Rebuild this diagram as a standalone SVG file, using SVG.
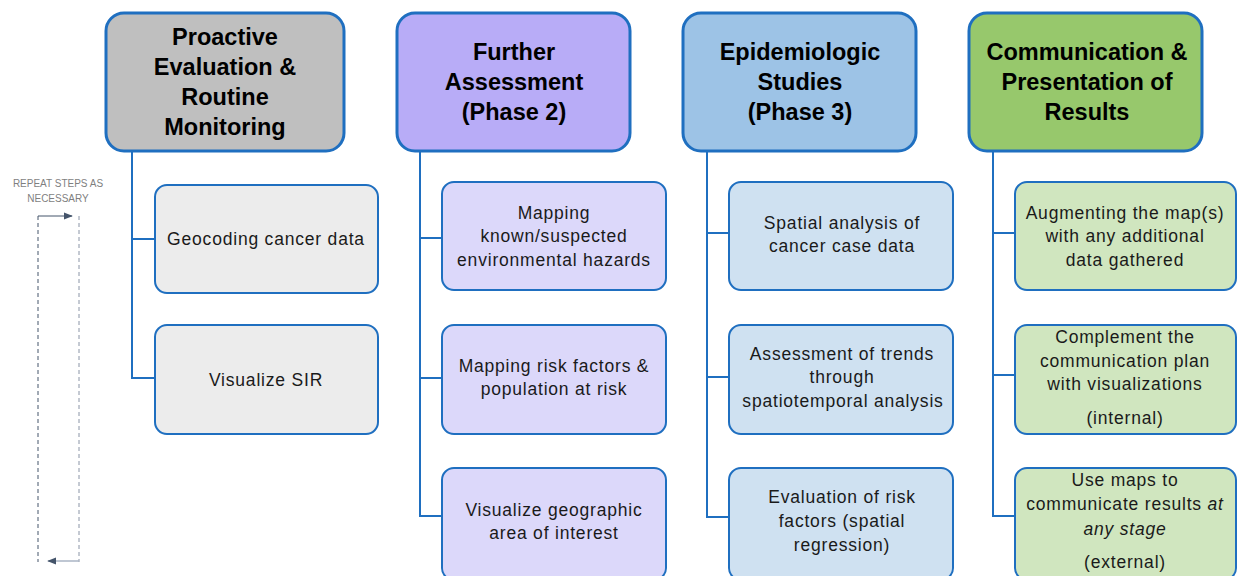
<svg xmlns="http://www.w3.org/2000/svg" width="1238" height="576" viewBox="0 0 1238 576">
<defs>
<style>
.hd{stroke:#1f6fc0;stroke-width:3}
.ch{stroke:#1f6fc0;stroke-width:2}
.ln{fill:none;stroke:#1f6fc0;stroke-width:2}
.ht{font-family:"Liberation Sans",Arial,sans-serif;font-weight:bold;font-size:23.5px;fill:#000;text-anchor:middle}
.ct{font-family:"Liberation Sans",Arial,sans-serif;font-size:17.5px;fill:#1a1a1a;text-anchor:middle;letter-spacing:0.8px}
.rp{font-family:"Liberation Sans",Arial,sans-serif;font-size:10px;fill:#7f7f7f;text-anchor:middle}
.g1{fill:#bfbfbf}.g2{fill:#b8acf7}.g3{fill:#9dc3e6}.g4{fill:#97c86c}
.c1{fill:#ececec}.c2{fill:#dcd8fa}.c3{fill:#cfe1f1}.c4{fill:#d0e6bf}
</style>
<marker id="ah" viewBox="0 0 10 10" refX="9" refY="5" markerWidth="9" markerHeight="9" markerUnits="userSpaceOnUse" orient="auto"><path d="M0,1 L10,5 L0,9 z" fill="#44546a"/></marker>
</defs>

<g id="connectors">
<path class="ln" d="M132,151 V378 H155 M132,239 H155"/>
<path class="ln" d="M420,151 V516 H442 M420,238 H442 M420,378 H442"/>
<path class="ln" d="M707,151 V517 H729 M707,233 H729 M707,377 H729"/>
<path class="ln" d="M993,151 V516 H1015 M993,233 H1015 M993,375 H1015"/>
</g>

<g id="repeat">
<text class="rp" x="58" y="187">REPEAT STEPS AS</text>
<text class="rp" x="58" y="202">NECESSARY</text>
<line x1="38" y1="216" x2="38" y2="562" stroke="#44546a" stroke-width="1" stroke-dasharray="4,3"/>
<line x1="79" y1="216" x2="79" y2="562" stroke="#8a94a6" stroke-width="1" stroke-dasharray="4,3"/>
<line x1="38" y1="216" x2="72" y2="216" stroke="#44546a" stroke-width="1" marker-end="url(#ah)"/>
<line x1="79" y1="561" x2="48" y2="561" stroke="#aab4c4" stroke-width="1.5" marker-end="url(#ah)"/>
</g>

<g id="h1"><rect class="hd g1" x="106" y="13" width="238" height="138" rx="18"/>
<text class="ht" x="225" y="45">Proactive</text><text class="ht" x="225" y="75">Evaluation &amp;</text><text class="ht" x="225" y="105">Routine</text><text class="ht" x="225" y="135">Monitoring</text></g>
<g id="h2"><rect class="hd g2" x="397" y="13" width="233" height="138" rx="18"/>
<text class="ht" x="514" y="60">Further</text><text class="ht" x="514" y="90">Assessment</text><text class="ht" x="514" y="120">(Phase 2)</text></g>
<g id="h3"><rect class="hd g3" x="683" y="13" width="233" height="138" rx="18"/>
<text class="ht" x="800" y="60">Epidemiologic</text><text class="ht" x="800" y="90">Studies</text><text class="ht" x="800" y="120">(Phase 3)</text></g>
<g id="h4"><rect class="hd g4" x="969" y="13" width="233" height="138" rx="18"/>
<text class="ht" x="1087" y="60">Communication &amp;</text><text class="ht" x="1087" y="90">Presentation of</text><text class="ht" x="1087" y="120">Results</text></g>

<g id="c1a"><rect class="ch c1" x="155" y="185" width="223" height="108" rx="12"/>
<text class="ct" x="266" y="245">Geocoding cancer data</text></g>
<g id="c1b"><rect class="ch c1" x="155" y="325" width="223" height="109" rx="12"/>
<text class="ct" x="266" y="386">Visualize SIR</text></g>

<g id="c2a"><rect class="ch c2" x="442" y="182" width="224" height="108" rx="12"/>
<text class="ct" x="554" y="219">Mapping</text><text class="ct" x="554" y="242">known/suspected</text><text class="ct" x="554" y="266">environmental hazards</text></g>
<g id="c2b"><rect class="ch c2" x="442" y="325" width="224" height="109" rx="12"/>
<text class="ct" x="554" y="372">Mapping risk factors &amp;</text><text class="ct" x="554" y="395">population at risk</text></g>
<g id="c2c"><rect class="ch c2" x="442" y="468" width="224" height="112" rx="12"/>
<text class="ct" x="554" y="516">Visualize geographic</text><text class="ct" x="554" y="539">area of interest</text></g>

<g id="c3a"><rect class="ch c3" x="729" y="182" width="224" height="108" rx="12"/>
<text class="ct" x="842" y="229">Spatial analysis of</text><text class="ct" x="842" y="252">cancer case data</text></g>
<g id="c3b"><rect class="ch c3" x="729" y="325" width="224" height="109" rx="12"/>
<text class="ct" x="842" y="360">Assessment of trends</text><text class="ct" x="842" y="383">through</text><text class="ct" x="843" y="407">spatiotemporal analysis</text></g>
<g id="c3c"><rect class="ch c3" x="729" y="468" width="224" height="112" rx="12"/>
<text class="ct" x="842" y="503">Evaluation of risk</text><text class="ct" x="842" y="527">factors (spatial</text><text class="ct" x="842" y="551">regression)</text></g>

<g id="c4a"><rect class="ch c4" x="1015" y="182" width="221" height="108" rx="12"/>
<text class="ct" x="1125" y="219">Augmenting the map(s)</text><text class="ct" x="1125" y="242">with any additional</text><text class="ct" x="1125" y="266">data gathered</text></g>
<g id="c4b"><rect class="ch c4" x="1015" y="325" width="221" height="109" rx="12"/>
<text class="ct" x="1125" y="343">Complement the</text><text class="ct" x="1125" y="367">communication plan</text><text class="ct" x="1125" y="390">with visualizations</text><text class="ct" x="1125" y="424">(internal)</text></g>
<g id="c4c"><rect class="ch c4" x="1015" y="468" width="221" height="112" rx="12"/>
<text class="ct" x="1125" y="486">Use maps to</text><text class="ct" x="1125" y="510">communicate results <tspan font-style="italic">at</tspan></text><text class="ct" x="1125" y="535" font-style="italic">any stage</text><text class="ct" x="1125" y="568">(external)</text></g>
</svg>
